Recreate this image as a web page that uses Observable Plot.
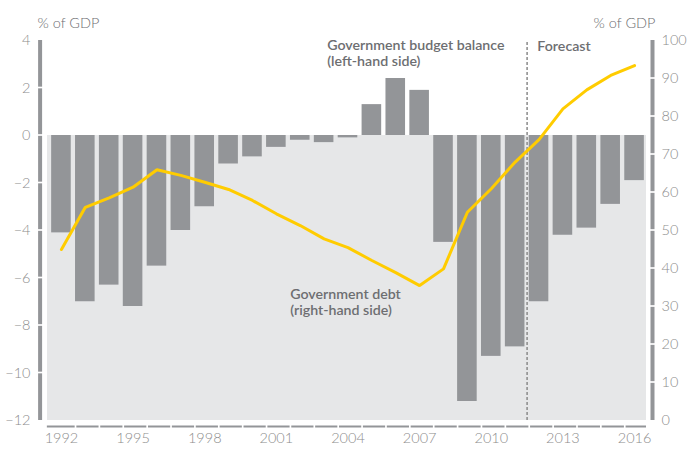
<!DOCTYPE html>
<html><head><meta charset="utf-8">
<script src="https://cdn.jsdelivr.net/npm/d3@7"></script>
<script src="https://cdn.jsdelivr.net/npm/@observablehq/plot@0.6"></script>
<style>body{margin:0;background:#fff} svg{display:block}</style>
</head><body><div id="chart"></div>
<script>
const years = [1992,1993,1994,1995,1996,1997,1998,1999,2000,2001,2002,2003,2004,2005,2006,2007,2008,2009,2010,2011,2012,2013,2014,2015,2016];
const budgetBalance = [-4.1,-7.0,-6.3,-7.2,-5.5,-4.0,-3.0,-1.2,-0.9,-0.5,-0.2,-0.3,-0.1,1.3,2.4,1.9,-4.5,-11.2,-9.3,-8.9,-7.0,-4.2,-3.9,-2.9,-1.9];
const governmentDebt = [45.0,56.1,58.6,61.4,66.0,64.5,62.7,60.8,57.9,54.4,51.3,47.8,45.5,42.1,38.9,35.5,39.9,54.8,61.0,68.0,73.9,82.0,87.0,90.8,93.4];
const leftTicks = [-12,-10,-8,-6,-4,-2,0,2,4];
const rightTicks = [0,10,20,30,40,50,60,70,80,90,100];
const yearTicks = [1992,1995,1998,2001,2004,2007,2010,2013,2016];
const forecastStart = 2011.5;
const unitLabel = "% of GDP";
const annotations = [
  {text: "Government budget balance\n(left-hand side)", year: 2003.13, value: 3.49},
  {text: "Forecast", year: 2011.93, value: 3.79},
  {text: "Government debt\n(right-hand side)", year: 2001.58, value: -6.99}
];

const leftDomain = [-12, 4];
const rightDomain = [0, 100];
const xDomain = [1991.5, 2016.5];
const toLeft = v => leftDomain[0] + (v - rightDomain[0]) * (leftDomain[1] - leftDomain[0]) / (rightDomain[1] - rightDomain[0]);

const data = years.map((year, i) => ({year, balance: budgetBalance[i], debt: governmentDebt[i]}));

const gap = 0.035;
const segs = ticks => ticks.slice(0, -1).map((t, i) => ({
  y1: i === 0 ? t : t + gap,
  y2: i === ticks.length - 2 ? ticks[i + 1] : ticks[i + 1] - gap
}));
const leftSegs = segs(leftTicks);
const rightSegs = segs(rightTicks.map(toLeft));
const baseSegs = years.map((y, i) => ({
  x1: i === 0 ? xDomain[0] - 0.09 : y - 1 + 0.645,
  x2: i === years.length - 1 ? xDomain[1] : y + 0.575
}));

const font = "Lato, 'Open Sans', sans-serif";
const tickColor = "#8d8d8d";
const annColor = "#6d6e71";

const chart = Plot.plot({
  width: 688,
  height: 450,
  marginTop: 40,
  marginBottom: 30,
  marginLeft: 49,
  marginRight: 42,
  style: {fontFamily: font, fontSize: "14px", background: "#fff"},
  x: {type: "linear", domain: xDomain, axis: null},
  y: {domain: leftDomain, axis: null},
  marks: [
    Plot.rect([0], {x1: () => xDomain[0], x2: () => xDomain[1], y1: () => leftDomain[0], y2: () => 0, fill: "#e6e7e8", insetLeft: -2}),
    Plot.rectY(data, {x1: d => d.year - 0.41, x2: d => d.year + 0.41, y: "balance", fill: "#939598"}),
    Plot.ruleX([forecastStart], {y1: () => leftDomain[0], y2: () => leftDomain[1], stroke: "#8a8a8a", strokeWidth: 1.5, strokeDasharray: "3,2"}),
    Plot.line(data, {x: "year", y: d => toLeft(d.debt), stroke: "#ffcc00", strokeWidth: 3, strokeLinejoin: "miter"}),
    Plot.ruleX(leftSegs, {x: () => xDomain[0], y1: "y1", y2: "y2", dx: -9.4, stroke: "#939598", strokeWidth: 4}),
    Plot.ruleX(rightSegs, {x: () => xDomain[1], y1: "y1", y2: "y2", dx: 6, stroke: "#939598", strokeWidth: 4}),
    Plot.ruleY(baseSegs, {x1: "x1", x2: "x2", y: () => leftDomain[0], dy: 6, stroke: "#939598", strokeWidth: 2}),
    Plot.axisY(leftTicks, {anchor: "left", tickSize: 0, tickPadding: 19, label: null, fill: tickColor, fontWeight: 300, fontSize: 14.5}),
    Plot.axisY(rightTicks.map(toLeft), {anchor: "right", tickSize: 0, tickPadding: 15, label: null, fill: tickColor, fontWeight: 300, fontSize: 14.5,
      tickFormat: v => String(Math.round(rightDomain[0] + (v - leftDomain[0]) * (rightDomain[1] - rightDomain[0]) / (leftDomain[1] - leftDomain[0])))}),
    Plot.axisX(yearTicks, {anchor: "bottom", tickSize: 0, tickPadding: 12, label: null, fill: tickColor, fontWeight: 300, fontSize: 14.5, tickFormat: d => String(d)}),
    Plot.text([unitLabel], {frameAnchor: "top-left", dx: -12, dy: -23, textAnchor: "start", fill: "#6d6e71", fontSize: 14.5, fontWeight: 300}),
    Plot.text([unitLabel], {frameAnchor: "top-right", dx: 9, dy: -23, textAnchor: "end", fill: "#6d6e71", fontSize: 14.5, fontWeight: 300}),
    Plot.text(annotations, {x: "year", y: "value", text: "text", textAnchor: "start", fill: annColor, fontSize: 14.2, fontWeight: 600, lineHeight: 1.14})
  ]
});
document.getElementById("chart").appendChild(chart);
</script>
</body></html>
